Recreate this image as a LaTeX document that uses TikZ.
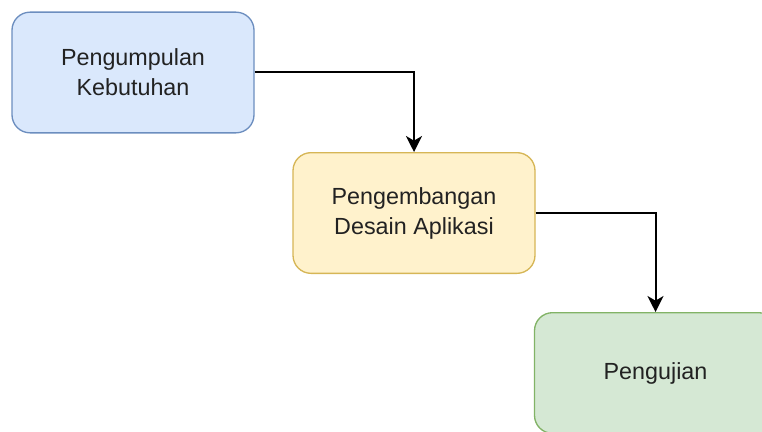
\documentclass[tikz,border=0pt]{standalone}
\usepackage{fontspec}
\setmainfont{Liberation Sans}
\usetikzlibrary{arrows.meta}
\definecolor{bluefill}{HTML}{DAE8FC}
\definecolor{bluedraw}{HTML}{6C8EBF}
\definecolor{yellowfill}{HTML}{FFF2CC}
\definecolor{yellowdraw}{HTML}{D6B656}
\definecolor{greenfill}{HTML}{D5E8D4}
\definecolor{greendraw}{HTML}{82B366}
\definecolor{textgray}{HTML}{222222}
\tikzset{
	box/.style={rectangle,rounded corners=13.5pt,line width=1pt,minimum width=181.5pt,minimum height=90.5pt,align=center,text=textgray,font=\fontsize{17.5}{22.5}\selectfont},
	arrow/.style={line width=1.5pt,-{Stealth[length=12pt,width=12pt,inset=3.5pt]}}
}
\begin{document}
\begin{tikzpicture}[x=0.75pt,y=-0.75pt]
	\useasboundingbox (0,0) rectangle (762,431);
	\node[box,fill=bluefill,draw=bluedraw] (kebutuhan) at (133,72.5) {Pengumpulan\\Kebutuhan};
	\node[box,fill=yellowfill,draw=yellowdraw] (desain) at (414,213) {Pengembangan\\Desain Aplikasi};
	\node[box,fill=greenfill,draw=greendraw] (pengujian) at (655.5,373) {Pengujian};
	\draw[arrow] (kebutuhan.east) -| (desain.north);
	\draw[arrow] (desain.east) -| (pengujian.north);
\end{tikzpicture}
\end{document}
